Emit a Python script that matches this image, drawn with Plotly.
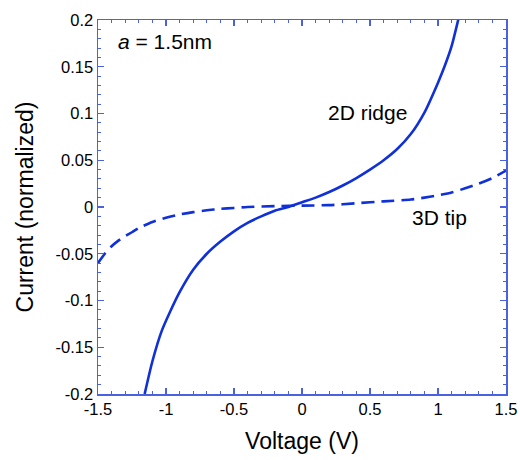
import plotly.graph_objects as go

# 2D ridge (solid)
ridge_v = [-1.157, -1.10, -1.03, -0.97, -0.90, -0.80, -0.70, -0.60, -0.50, -0.40,
           -0.30, -0.20, -0.10, 0.00, 0.10, 0.20, 0.30, 0.40, 0.50, 0.60,
           0.70, 0.80, 0.90, 1.00, 1.05, 1.10, 1.15]
ridge_i = [-0.200, -0.165, -0.132, -0.112, -0.091, -0.067, -0.050, -0.037, -0.026, -0.017,
           -0.010, -0.004, 0.000, 0.005, 0.010, 0.016, 0.023, 0.031, 0.040, 0.050,
           0.062, 0.078, 0.101, 0.133, 0.151, 0.172, 0.201]

# 3D tip (dashed)
tip_v = [-1.50, -1.45, -1.40, -1.35, -1.30, -1.25, -1.20, -1.10, -1.00, -0.90,
         -0.80, -0.70, -0.60, -0.50, -0.40, -0.20, 0.00, 0.20, 0.40, 0.60,
         0.80, 0.90, 1.00, 1.10, 1.20, 1.30, 1.40, 1.50]
tip_i = [-0.060, -0.050, -0.042, -0.036, -0.031, -0.027, -0.0225, -0.016, -0.0115, -0.008,
         -0.0055, -0.0035, -0.002, -0.001, 0.000, 0.001, 0.0015, 0.002, 0.004, 0.006,
         0.008, 0.010, 0.0125, 0.0155, 0.020, 0.025, 0.031, 0.039]

x_ticks = [-1.5, -1.0, -0.5, 0.0, 0.5, 1.0, 1.5]
x_labels = ["-1.5", "-1", "-0.5", "0", "0.5", "1", "1.5"]
y_ticks = [-0.2, -0.15, -0.1, -0.05, 0.0, 0.05, 0.1, 0.15, 0.2]
y_labels = ["-0.2", "-0.15", "-0.1", "-0.05", "0", "0.05", "0.1", "0.15", "0.2"]

LINE = "#1030d8"
AXIS = "#4a62e2"
FONT = "Liberation Sans, Arial, Helvetica, sans-serif"

fig = go.Figure()
fig.add_trace(go.Scatter(x=ridge_v, y=ridge_i, mode="lines", name="2D ridge",
                         line=dict(color=LINE, width=2.6, shape="spline", smoothing=0.6)))
fig.add_trace(go.Scatter(x=tip_v, y=tip_i, mode="lines", name="3D tip",
                         line=dict(color=LINE, width=2.6, dash="13px,7px", shape="spline", smoothing=0.6)))

axis_common = dict(showgrid=False, zeroline=False, showline=True, linecolor=AXIS, linewidth=1.5,
                   mirror="allticks", ticks="inside", tickcolor=AXIS, ticklen=6, tickwidth=1.2,
                   automargin=False,
                   tickfont=dict(family=FONT, size=16.5, color="black"))

fig.update_xaxes(range=[-1.5, 1.5], tickvals=x_ticks, ticktext=x_labels,
                 minor=dict(dtick=0.1, ticks="inside", ticklen=3, tickcolor=AXIS, tickwidth=1),
                 title=dict(text="Voltage (V)", font=dict(family=FONT, size=23, color="black")),
                 **axis_common)
fig.update_yaxes(range=[-0.2, 0.2], tickvals=y_ticks, ticktext=y_labels,
                 minor=dict(dtick=0.01, ticks="inside", ticklen=3, tickcolor=AXIS, tickwidth=1),
                 title=dict(text="Current (normalized)", font=dict(family=FONT, size=23, color="black")),
                 **axis_common)

ann_font = dict(family=FONT, size=21, color="black")
fig.add_annotation(x=-1.366, y=0.1775, text="<i>a</i> = 1.5nm", showarrow=False,
                   xanchor="left", yanchor="middle", font=ann_font)
fig.add_annotation(x=0.479, y=0.1014, text="2D ridge", showarrow=False, font=ann_font)
fig.add_annotation(x=1.008, y=-0.011, text="3D tip", showarrow=False, font=ann_font)

fig.update_layout(width=520, height=460, margin=dict(l=98, r=14, t=20, b=66),
                  paper_bgcolor="white", plot_bgcolor="white", showlegend=False)

fig.write_html("out.html", config={"displayModeBar": False, "staticPlot": True},
               post_script="document.body.style.margin='0';document.body.style.overflow='hidden';")
